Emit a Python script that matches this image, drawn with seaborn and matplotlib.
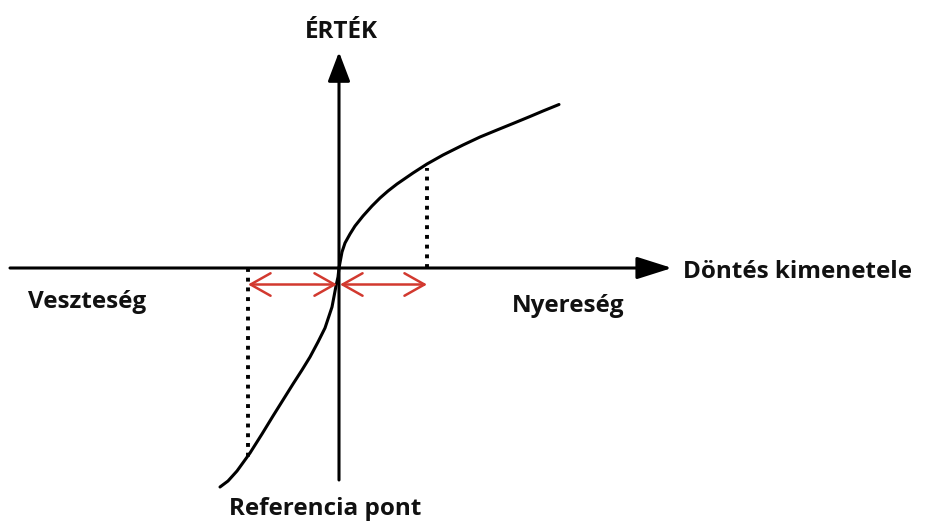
import matplotlib.pyplot as plt
import pandas as pd
import seaborn as sns

# value function (origin = reference point)
gain_x = [0.0, 0.3, 0.6, 1.1, 1.6, 2.4, 3.3, 4.1, 4.9, 5.8, 7.4, 8.8,
          10.4, 12.4, 14.1, 15.8, 17.4, 19.1, 20.4, 22.0]
gain_y = [0.0, 1.6, 2.5, 3.4, 4.2, 5.2, 6.2, 7.0, 7.7, 8.4, 9.5, 10.4,
          11.3, 12.3, 13.1, 13.8, 14.45, 15.15, 15.7, 16.35]
loss_x = [-11.9, -11.1, -10.2, -8.9, -7.7, -6.6, -5.6, -4.6, -3.7, -2.9,
          -2.1, -1.4, -0.7, -0.3, -0.1, 0.0]
loss_y = [-21.9, -21.3, -20.3, -18.5, -16.6, -14.8, -13.2, -11.6, -10.2, -8.9,
          -7.4, -6.0, -3.9, -1.8, -0.9, 0.0]

# equal-size outcome on each side
loss_mark = -9.1
gain_mark = 8.8

labels = {
    "y_axis": "ÉRTÉK",
    "x_axis": "Döntés kimenetele",
    "loss": "Veszteség",
    "gain": "Nyereség",
    "ref": "Referencia pont",
}

sns.set_theme(style="white")
plt.rcParams['font.family'] = ['Open Sans', 'DejaVu Sans']

curve = pd.DataFrame({"x": loss_x + gain_x, "y": loss_y + gain_y})

fig = plt.figure(figsize=(9.26, 5.24), dpi=100)
ax = fig.add_axes([0, 0, 1, 1])
ax.set_xlim(-33.9, 58.7)
ax.set_ylim(-25.6, 26.8)
ax.axis("off")

# axes with arrows
ax.annotate("", xy=(33.3, 0), xytext=(-32.9, 0),
            arrowprops=dict(arrowstyle="-|>,head_length=1.2,head_width=0.38",
                            mutation_scale=18, lw=2.2, color="black",
                            shrinkA=0, shrinkB=0))
ax.annotate("", xy=(0, 21.6), xytext=(0, -21.2),
            arrowprops=dict(arrowstyle="-|>,head_length=1.0,head_width=0.38",
                            mutation_scale=18, lw=2.2, color="black",
                            shrinkA=0, shrinkB=0))

# value curve
sns.lineplot(data=curve, x="x", y="y", sort=False, estimator=None,
             color="black", lw=2.2, ax=ax)
for ln in ax.lines:
    ln.set_solid_joinstyle("round")
    ln.set_solid_capstyle("round")

# dotted guides from the axis to the curve
loss_guide = pd.DataFrame({"x": [loss_mark, loss_mark], "y": [0, -18.9]})
gain_guide = pd.DataFrame({"x": [gain_mark, gain_mark], "y": [0, 10.0]})
for g in (loss_guide, gain_guide):
    sns.lineplot(data=g, x="x", y="y", sort=False, estimator=None,
                 color="black", lw=2.8, linestyle=(0, (1, 1.5)), ax=ax)

# red double arrows just below the axis
red = "#d2392f"
for a, b in ((loss_mark, -0.2), (0.1, gain_mark)):
    ax.annotate("", xy=(b, -1.65), xytext=(a, -1.65),
                arrowprops=dict(arrowstyle="<->,head_length=0.8,head_width=0.45",
                                mutation_scale=18, lw=1.8, color=red,
                                shrinkA=0, shrinkB=0))

txt = dict(fontsize=17.5, fontweight="bold", color="#111111")
ax.text(0.2, 23.6, labels["y_axis"], ha="center", va="center", **txt)
ax.text(34.4, -0.4, labels["x_axis"], ha="left", va="center", **txt)
ax.text(-31.1, -3.4, labels["loss"], ha="left", va="center", **txt)
ax.text(17.3, -3.8, labels["gain"], ha="left", va="center", **txt)
ax.text(-1.4, -24.1, labels["ref"], ha="center", va="center", **txt)

fig.savefig("out.png", dpi=100)
